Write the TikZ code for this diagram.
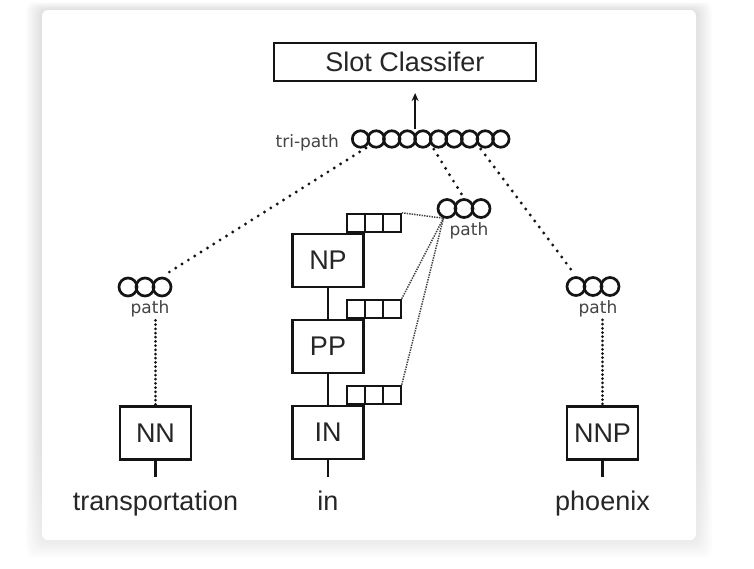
\documentclass[tikz,border=0pt]{standalone}
\usepackage{fontspec}
\setmainfont{Liberation Sans}
\newfontfamily\labelfont{DejaVu Sans}
\usepackage{xcolor}
\usepackage{tikz}
\usetikzlibrary{arrows.meta}
\usetikzlibrary{shapes}
\usetikzlibrary{positioning}
\usetikzlibrary{calc}
\definecolor{ink}{HTML}{141414}
\definecolor{textgray}{HTML}{262626}
\definecolor{labelgray}{HTML}{444444}
\definecolor{shade}{HTML}{5C6070}
\tikzset{%
  classifier box/.style={
    draw=ink,
    line width=2.1pt,
    minimum width=262pt,
    minimum height=38pt,
    text=textgray,
    font=\fontsize{27}{30}\selectfont
  },
  tag box/.style={
    draw=ink,
    line width=2.1pt,
    minimum width=71pt,
    minimum height=53pt,
    inner sep=0pt,
    text=textgray,
    font=\fontsize{27}{30}\selectfont
  },
  word/.style={
    anchor=base,
    inner xsep=0pt,
    inner ysep=13pt,
    text=textgray,
    font=\fontsize{27}{30}\selectfont
  },
  unit/.style={
    circle,
    draw=ink,
    line width=2.7pt,
    minimum size=16.5pt,
    inner sep=0pt
  },
  path unit/.style={
    unit,
    minimum size=18pt
  },
  cell/.style={
    draw=ink,
    line width=2.2pt,
    minimum size=18pt,
    inner sep=0pt,
    anchor=south west
  },
  small label/.style={
    inner sep=0pt,
    text=labelgray,
    font=\labelfont\fontsize{17}{19}\selectfont
  },
  tree line/.style={ink, line width=2.2pt},
  tree link/.style={
    ink, line width=3.2pt, line cap=round,
    dash pattern=on 0pt off 7.5pt,
    shorten <=4pt, shorten >=4pt
  },
  feed link/.style={
    ink, line width=3pt, line cap=round,
    dash pattern=on 0pt off 4.2pt,
    shorten <=3pt
  },
  span link/.style={
    ink!80, line width=1.5pt,
    dash pattern=on 1.4pt off 1.1pt
  },
}

\begin{document}
\begin{tikzpicture}[x=1pt, y=-1pt, >={Stealth[length=8pt, width=7pt]}]

    \useasboundingbox (0,0) rectangle (754,568);
    \fill[white] (0,0) rectangle (754,568);
    \foreach \s in {1,...,10}
        \fill[shade, opacity=0.007, rounded corners=8pt]
            (42-1.6*\s,10-0.8*\s) rectangle (696+1.6*\s,540+1.8*\s);
    \fill[white, rounded corners=6pt] (42,10) rectangle (696,540);

    \node [classifier box] (slot) at (405,62) {Slot Classifer};

    \foreach \k in {1,...,10}
    \node [unit] (tri-\k) at (345+15.58*\k,139) {};

    \node [small label, left=12pt of tri-1, yshift=-4pt] (tri-label) {tri-path};

    \coordinate (tri-out) at ($(tri-4.north)!0.5!(tri-5.north)$);
    \draw [tree line, ->, shorten >=11pt] (tri-out) -- (tri-out |- slot.south);

    \foreach \g/\x/\y in {lpath/128/287, mpath/447/208.5, rpath/576/286.5}
    {
        \foreach \k in {1,2,3}
        \node [path unit] (\g-\k) at (\x+17*\k-17,\y) {};
        \node [small label] (\g-label) at ($(\g-2)+(5,22)$) {path};
    }

    \node [tag box] (np) at (328,260.5) {NP};
    \node [tag box] (pp) at (328,346.5) {PP};
    \node [tag box] (in) at (328,432.5) {IN};
    \node [tag box] (nn) at (155.5,433) {NN};
    \node [tag box] (nnp) at (602.5,433) {NNP};

    \foreach \t in {np,pp,in}
    \foreach \k in {1,2,3}
        \node [cell] (\t-cell-\k) at ($(\t.north east)+(18*\k-37,0)$) {};

    \foreach \t/\w in {nn/transportation, in/in, nnp/phoenix}
    \node [word] (w-\t) at (\t.south |- 0,510) {\w};

    \draw [tree line] (np) -- (pp);
    \draw [tree line] (pp) -- (in);
    \foreach \t in {nn,in,nnp}
        \draw [tree line] (\t) -- (w-\t);

    \draw [tree link] (tri-2.south west) -- (lpath-3.north);
    \draw [tree link] (tri-6.south west) -- (mpath-2.north);
    \draw [tree link] (tri-9.south west) -- (rpath-1.north);

    \draw [feed link] (nn.north |- lpath-label.south) -- (nn.north);
    \draw [feed link] (nnp.north |- rpath-label.south) -- (nnp.north);

    \foreach \t in {np,pp,in}
        \draw [span link] (\t-cell-3.north east) -- (mpath-1.250);

\end{tikzpicture}
\end{document}
